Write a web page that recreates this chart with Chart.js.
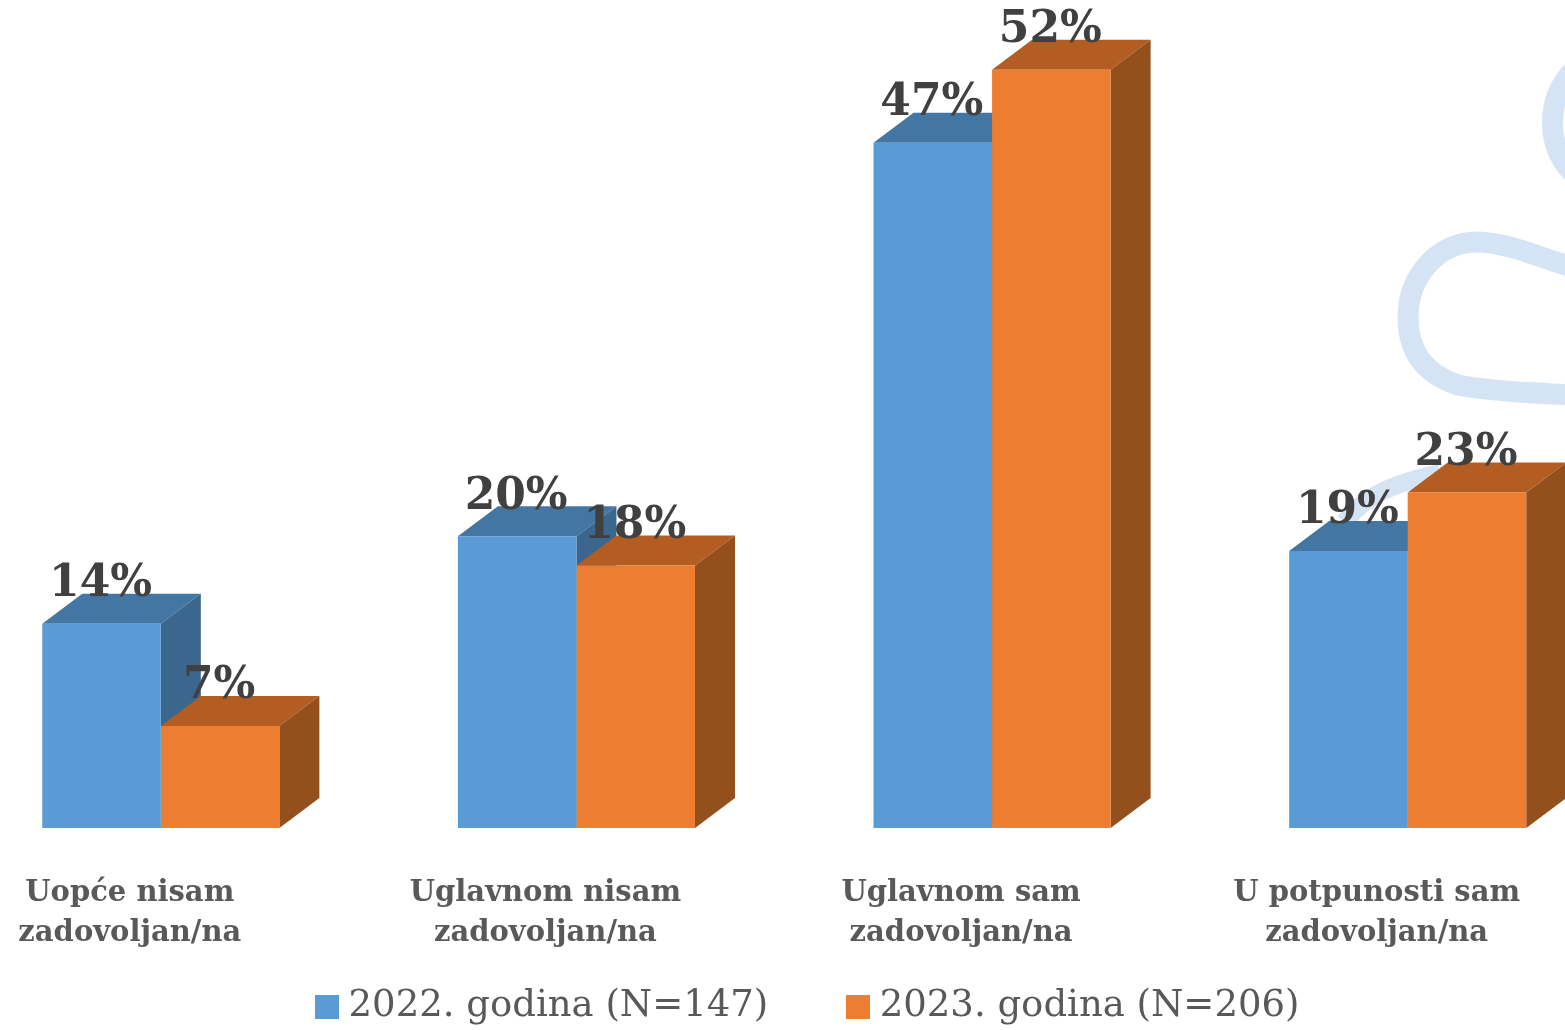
<!DOCTYPE html>
<html><head><meta charset="utf-8">
<style>
html,body{margin:0;padding:0;background:#fff;width:1565px;height:1030px;overflow:hidden}
#wm{position:absolute;left:0;top:0;z-index:0}
#box{position:absolute;left:-60px;top:0;width:1700px;height:1035px;z-index:1}
</style>
<script src="https://cdn.jsdelivr.net/npm/chart.js@4"></script>
</head><body>
<svg id="wm" width="1565" height="1030" fill="none" stroke="#d5e4f4" stroke-width="21">
<path d="M1572,72 C1546,100 1546,145 1572,172"/>
<path d="M1575,268 C1540,258 1510,243 1478,242 C1440,241 1408,275 1408,317 C1408,352 1425,374 1458,385 C1490,391 1530,393 1575,395"/>
<path d="M1345,522 C1365,495 1395,483 1440,473" stroke-width="18"/>
</svg>
<div id="box"><canvas id="c" width="1700" height="1035"></canvas></div>
<script>
const categories = [["Uopće nisam","zadovoljan/na"],["Uglavnom nisam","zadovoljan/na"],["Uglavnom sam","zadovoljan/na"],["U potpunosti sam","zadovoljan/na"]];
const seriesNames = ["2022. godina (N=147)","2023. godina (N=206)"];
const values2022 = [14,20,47,19];
const values2023 = [7,18,52,23];
const FRONT = ["#5B9BD5","#ED7D31"];
const TOP = ["#4476A3","#B45D22"];
const SIDE = ["#3B668E","#934F1C"];
const DX = 40, DY = -30;
const SERIF = '"DejaVu Serif","Liberation Serif",serif';

function swatch(color){
  const k=document.createElement('canvas');k.width=24;k.height=24;
  const g=k.getContext('2d');g.fillStyle=color;g.fillRect(0,0,24,24);return k;
}
const swatches = FRONT.map(swatch);

function poly(ctx,color,pts){
  ctx.fillStyle=color;ctx.beginPath();
  pts.forEach((p,i)=>i?ctx.lineTo(p[0],p[1]):ctx.moveTo(p[0],p[1]));
  ctx.closePath();ctx.fill();
}
const extrude = {
  id:'extrude',
  beforeDatasetsDraw(chart){
    const ctx=chart.ctx;ctx.save();
    chart.data.datasets.forEach((ds,d)=>{
      chart.getDatasetMeta(d).data.forEach(b=>{
        const l=b.x-b.width/2,r=b.x+b.width/2,t=b.y,bt=b.base;
        poly(ctx,TOP[d],[[l,t],[r,t],[r+DX,t+DY],[l+DX,t+DY]]);
        poly(ctx,SIDE[d],[[r,t],[r+DX,t+DY],[r+DX,bt+DY],[r,bt]]);
      });
    });
    ctx.restore();
  }
};
const valueLabels = {
  id:'valueLabels',
  afterDatasetsDraw(chart){
    const ctx=chart.ctx;ctx.save();
    ctx.font='bold 44px '+SERIF;ctx.fillStyle='#404040';ctx.textAlign='center';ctx.textBaseline='middle';
    chart.data.datasets.forEach((ds,d)=>{
      chart.getDatasetMeta(d).data.forEach((b,i)=>{
        ctx.fillText(ds.data[i]+'%',b.x-1,b.y-39);
      });
    });
    ctx.restore();
  }
};
// tick labels share space with the legend's padding: widen the axis clip box; nudge the legend right of the plot centre
const layoutTweaks = { id:'layoutTweaks', afterLayout(chart){
  const s=chart.scales.x; s.bottom=s.top+130;
  chart.legend.left+=27; chart.legend.right+=27;
} };
new Chart(document.getElementById('c'),{
  type:'bar',
  data:{labels:categories,datasets:[
    {label:seriesNames[0],data:values2022,backgroundColor:FRONT[0]},
    {label:seriesNames[1],data:values2023,backgroundColor:FRONT[1]}
  ]},
  plugins:[extrude,valueLabels,layoutTweaks],
  options:{
    responsive:false,animation:false,
    layout:{padding:{left:13,right:24.5,top:26,bottom:0}},
    datasets:{bar:{categoryPercentage:0.5705,barPercentage:1}},
    scales:{
      x:{grid:{display:false},border:{display:false},
         afterFit(s){s.height=74;},
         ticks:{maxRotation:0,autoSkip:false,labelOffset:-31,padding:37,color:'#595959',font:{family:SERIF,size:29,weight:'bold',lineHeight:1.38}}},
      y:{display:false,min:0,max:55}
    },
    plugins:{
      tooltip:{enabled:false},
      legend:{position:'bottom',labels:{
        color:'#595959',font:{family:SERIF,size:37},usePointStyle:true,pointStyleWidth:7,padding:86,
        generateLabels(chart){
          return Chart.defaults.plugins.legend.labels.generateLabels(chart).map((it,i)=>Object.assign(it,{pointStyle:swatches[i]}));
        }
      }}
    }
  }
});
</script>
</body></html>
